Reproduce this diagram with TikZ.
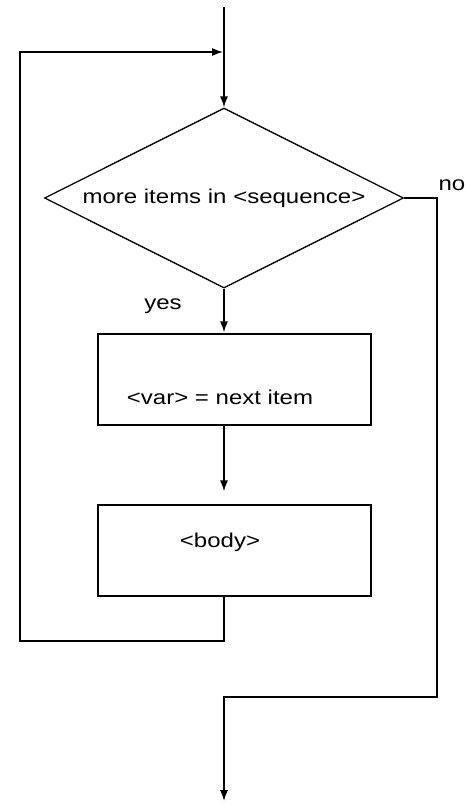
\documentclass[tikz,border=0pt]{standalone}
\usepackage{fontspec}
\setmainfont[FakeStretch=1.2]{Liberation Sans}
\usetikzlibrary{shapes.geometric, positioning, calc, arrows.meta}

\begin{document}
\begin{tikzpicture}[x=1pt, y=-1pt,
        every node/.style={font=\fontsize{20}{24}\selectfont},
        freccia/.style={line width=1.3pt, -{Latex[length=11pt, width=8pt]}},
        rombo/.style={draw, line width=1.3pt, diamond, aspect=2, inner sep=0pt, minimum width=359pt, minimum height=180pt},
        blocco/.style={draw, line width=1.3pt, rectangle, minimum width=273pt, minimum height=91pt}]
        \useasboundingbox (0,0) rectangle (465,804);
        %punti di ingresso e uscita
        \coordinate (inizio) at (224,7);
        \coordinate (fine) at (224,801);
        \coordinate (ritorno) at (20,641);
        \coordinate (innesto) at (223,52);
        \coordinate (uscita) at (437,697);
        %disegno rombo e blocchi
        \node[rombo] (test) at (224,198) {more items in <sequence>};
        \node[blocco] (assegna) at (234.5,379.5) {};
        \node (assegnalbl) at (220,397) {<var> = next item};
        \node[blocco] (corpo) at (234.5,550.5) {};
        \node (corpolbl) at (220,542) {<body>};
        %label
        \node (si) at (163,306) {yes};
        \node (no) at (452,185) {no};
        %disegno frecce
        \draw[freccia] (inizio) -- (test.north);
        \draw[freccia, shorten >=1pt] (test.south) -- (inizio |- assegna.north);
        \draw[freccia, shorten >=13pt] (inizio |- assegna.south) -- (inizio |- corpo.north);
        \draw[freccia] (inizio |- corpo.south) |- (ritorno) |- (innesto);
        \draw[freccia] (test.east) -| (uscita) -| (fine);
\end{tikzpicture}
\end{document}
